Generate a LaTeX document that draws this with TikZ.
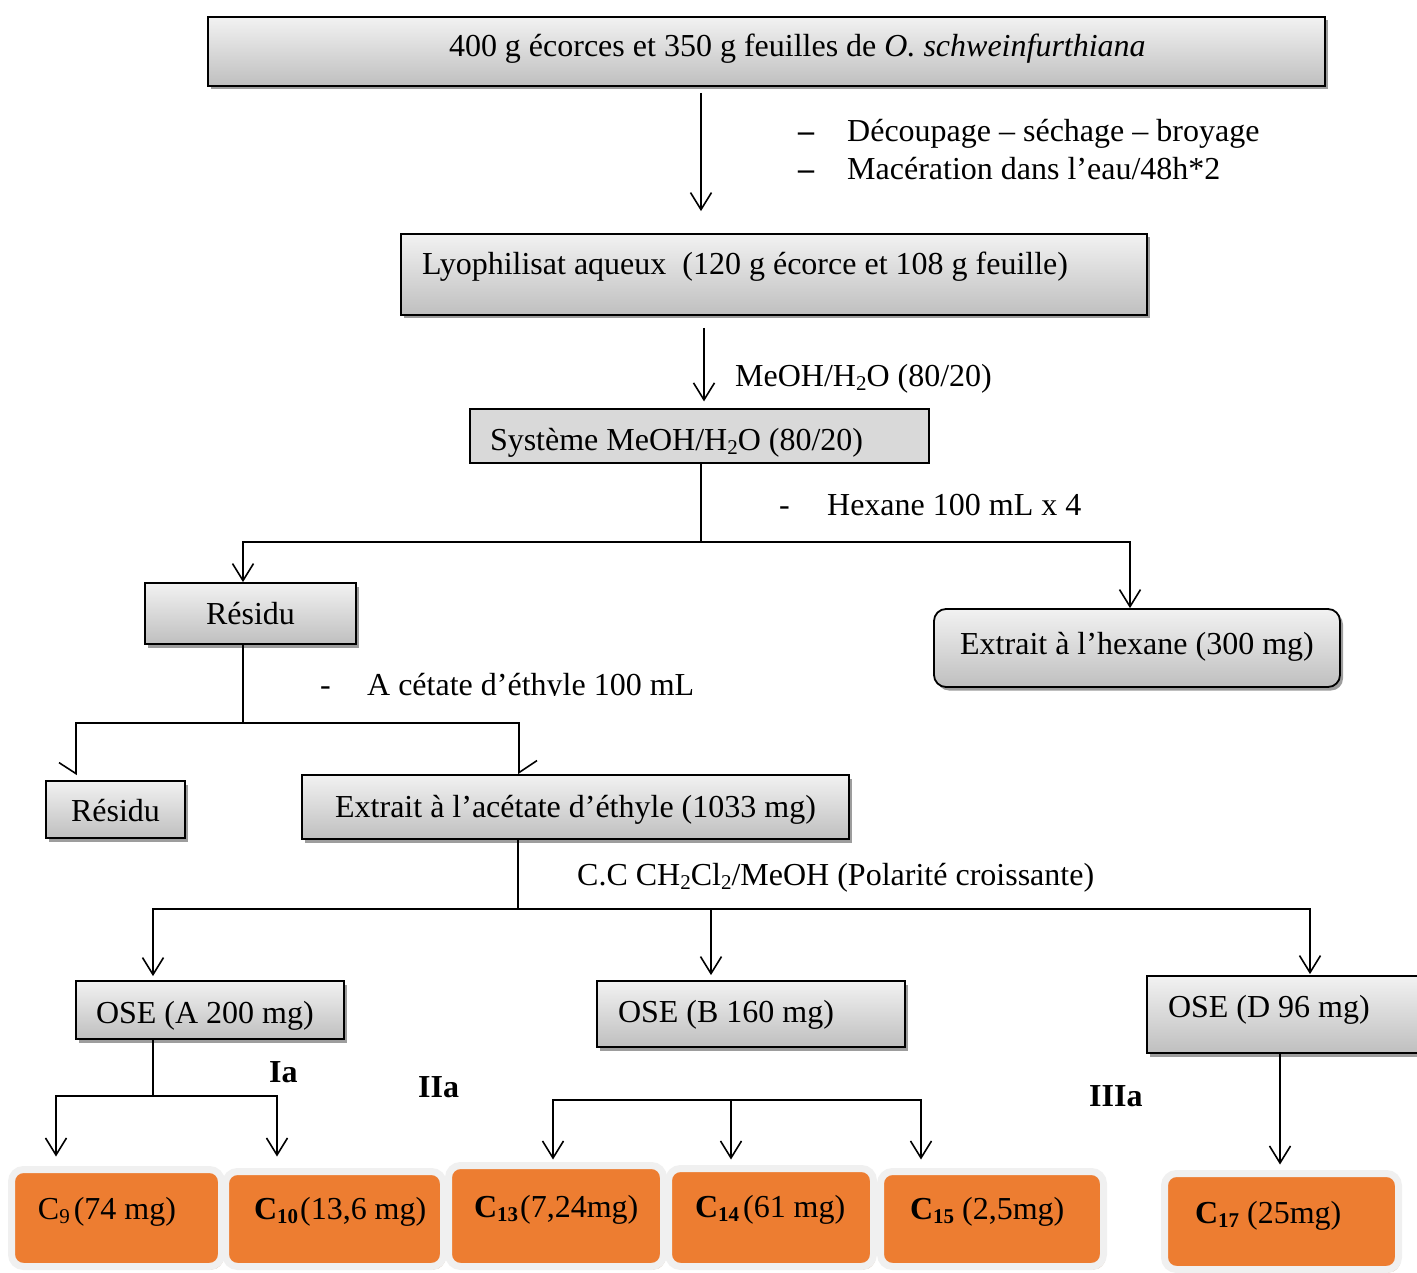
\documentclass[tikz,border=0pt]{standalone}
\usepackage{fontspec}
\setmainfont{Liberation Serif}
\usetikzlibrary{arrows.meta,shadows}
\definecolor{boxtop}{HTML}{F2F2F2}
\definecolor{boxbot}{HTML}{BFBFBF}
\definecolor{sysgray}{HTML}{D9D9D9}
\definecolor{orc}{HTML}{ED7D31}
\definecolor{rimc}{HTML}{F0F0F0}
\definecolor{shc}{HTML}{C9A98E}
\newcommand\sbs[1]{\raisebox{-4pt}{\fontsize{21pt}{21pt}\selectfont #1}}
\tikzset{
  every node/.style={font=\fontsize{32pt}{38pt}\selectfont},
  gbox/.style={draw=black, line width=1.8pt, top color=boxtop, bottom color=boxbot, inner sep=0pt,
    drop shadow={shadow xshift=3pt, shadow yshift=-3.5pt, fill=black!55, opacity=.7}},
  sbox/.style={draw=black, line width=1.2pt, fill=sysgray, inner sep=0pt},
  obox/.style={draw=rimc, line width=7pt, fill=orc, rounded corners=12pt, inner sep=0pt,
    drop shadow={shadow xshift=2pt, shadow yshift=-3pt, fill=shc, opacity=.8}},
  lbl/.style={anchor=base west, inner sep=0pt},
  ln/.style={line width=1.6pt},
  arr/.style={ln, -{Straight Barb[length=17pt,width=21pt]}},
  halfR/.style={ln, -{Straight Barb[right,length=11pt,width=34pt]}},
  halfL/.style={ln, -{Straight Barb[left,length=12pt,width=36pt]}},
}
\begin{document}
\begin{tikzpicture}[x=1pt,y=-1pt]
\useasboundingbox (0,0) rectangle (1417,1273);

% gray boxes
\node[gbox, minimum height=69pt, text height=25.5pt, text depth=14.5pt] (top) at (766.5,51.5)
  {\makebox[1117pt][l]{\hspace*{241pt}400 g écorces et 350 g feuilles de \textit{O. schweinfurthiana}}};
\node[gbox, minimum height=81pt, text height=20.5pt, text depth=19.5pt] (lyo) at (774,274.5)
  {\makebox[746pt][l]{\hspace*{21pt}Lyophilisat aqueux\ \ (120 g écorce et 108 g feuille)}};
\node[sbox, minimum height=54pt, text height=34pt, text depth=6pt] (sys) at (699.5,436)
  {\makebox[459pt][l]{\hspace*{20pt}Système MeOH/H\sbs{2}O (80/20)}};
\node[gbox, minimum height=61pt, text height=30.5pt, text depth=9.5pt] (res1) at (250.5,613.5)
  {\makebox[211pt]{Résidu}};
\node[gbox, rounded corners=12pt, minimum height=78pt, text height=26pt, text depth=14pt] (hex) at (1137,648)
  {\makebox[406pt]{Extrait à l’hexane (300 mg)}};
\node[gbox, minimum height=57pt, text height=31.5pt, text depth=8.5pt] (res2) at (115.5,809.5)
  {\makebox[139pt]{Résidu}};
\node[gbox, minimum height=64pt, text height=30pt, text depth=10pt] (acet) at (575.5,807)
  {\makebox[547pt]{Extrait à l’acétate d’éthyle (1033 mg)}};
\node[gbox, minimum height=58pt, text height=33pt, text depth=7pt] (oseA) at (210,1010)
  {\makebox[268pt][l]{\hspace*{20pt}OSE (A 200 mg)}};
\node[gbox, minimum height=66pt, text height=28pt, text depth=12pt] (oseB) at (751,1014)
  {\makebox[308pt][l]{\hspace*{21pt}OSE (B 160 mg)}};
\node[gbox, minimum height=77pt, text height=22.5pt, text depth=17.5pt] (oseD) at (1297,1014.5)
  {\makebox[300pt][l]{\hspace*{21pt}OSE (D 96 mg)}};

% orange boxes
\node[obox, minimum height=97pt, text height=21pt, text depth=19pt] (c9) at (116.5,1218)
  {\makebox[210pt][l]{\hspace*{26.5pt}C\sbs{9}\hspace{4pt}(74 mg)}};
\node[obox, minimum height=95pt, text height=20pt, text depth=20pt] (c10) at (334.5,1219)
  {\makebox[218pt][l]{\hspace*{28.5pt}\textbf{C\sbs{10}}\hspace{2pt}(13,6 mg)}};
\node[obox, minimum height=101pt, text height=21pt, text depth=19pt] (c13) at (556,1216)
  {\makebox[215pt][l]{\hspace*{25.5pt}\textbf{C\sbs{13}}\hspace{2pt}(7,24mg)}};
\node[obox, minimum height=98pt, text height=19.5pt, text depth=20.5pt] (c14) at (771,1217.5)
  {\makebox[205pt][l]{\hspace*{26.5pt}\textbf{C\sbs{14}}\hspace{4pt}(61 mg)}};
\node[obox, minimum height=95pt, text height=20pt, text depth=20pt] (c15) at (992,1219)
  {\makebox[223pt][l]{\hspace*{29.5pt}\textbf{C\sbs{15}} (2,5mg)}};
\node[obox, minimum height=96pt, text height=21.5pt, text depth=18.5pt] (c17) at (1281.5,1221.5)
  {\makebox[234pt][l]{\hspace*{30.5pt}\textbf{C\sbs{17}} (25mg)}};

% labels
\node[lbl] (l1) at (798,142) {\makebox[49pt][l]{\textbf{–}}Découpage – séchage – broyage};
\node[lbl] (l2) at (798,180) {\makebox[49pt][l]{\textbf{–}}Macération dans l’eau/48h*2};
\node[lbl] (l3) at (735,387) {MeOH/H\sbs{2}O (80/20)};
\node[lbl] (l4) at (779,515) {\makebox[48pt][l]{-}Hexane 100 mL x 4};
\begin{scope}
  \clip (290,640) rectangle (760,695.5);
  \node[lbl] (l5) at (320,695) {\makebox[47pt][l]{-}A cétate d’éthyle 100 mL};
\end{scope}
\node[lbl] (l6) at (577,885) {C.C CH\sbs{2}Cl\sbs{2}/MeOH (Polarité croissante)};
\node[lbl] (ia) at (269,1082) {\textbf{Ia}};
\node[lbl] (iia) at (418,1097) {\textbf{IIa}};
\node[lbl] (iiia) at (1089,1106) {\textbf{IIIa}};

% junctions
\coordinate (j1) at (701,542);
\coordinate (j2) at (243,723);
\coordinate (j3) at (518,909);
\coordinate (j4) at (711,909);
\coordinate (j5) at (153,1096);
\coordinate (j6) at (731,1100);

% connectors
\draw[arr, shorten <=6pt, shorten >=22pt] ([xshift=-65.5pt]top.south) -- ([xshift=-73pt]lyo.north);
\draw[arr, shorten <=12pt, shorten >=7pt] ([xshift=-70pt]lyo.south) -- ([xshift=4.5pt]sys.north);
\draw[ln] ([xshift=1.5pt]sys.south) -- (j1);
\draw[arr] (j1) -| ([xshift=-7.5pt]res1.north);
\draw[arr] (j1) -| ([xshift=-7pt]hex.north);
\draw[ln] ([xshift=-7.5pt]res1.south) -- (j2);
\draw[halfR, shorten >=5pt] (j2) -| ([xshift=-39.5pt]res2.north);
\draw[halfL] (j2) -| ([xshift=-56.5pt]acet.north);
\draw[ln] ([xshift=-57.5pt]acet.south) -- (j3);
\draw[arr, shorten >=4pt] (j3) -| ([xshift=-57pt]oseA.north);
\draw[arr, shorten >=1pt] (j3) -| ([xshift=13pt]oseD.north);
\draw[arr, shorten >=5pt] (j4) -- ([xshift=-40pt]oseB.north);
\draw[ln] ([xshift=-57pt]oseA.south) -- (j5);
\draw[arr, shorten >=9.5pt] (j5) -| ([xshift=-60.5pt]c9.north);
\draw[arr, shorten >=11.5pt] (j5) -| ([xshift=-57.5pt]c10.north);
\draw[arr, shorten >=2.5pt] (j6) -| ([xshift=-3pt]c13.north);
\draw[arr, shorten >=5.5pt] (j6) -- ([xshift=-40pt]c14.north);
\draw[arr, shorten >=8.5pt] (j6) -| ([xshift=-71pt]c15.north);
\draw[arr, shorten >=5.5pt] ([xshift=-17pt]oseD.south) -- ([xshift=-1.5pt]c17.north);
\end{tikzpicture}
\end{document}
